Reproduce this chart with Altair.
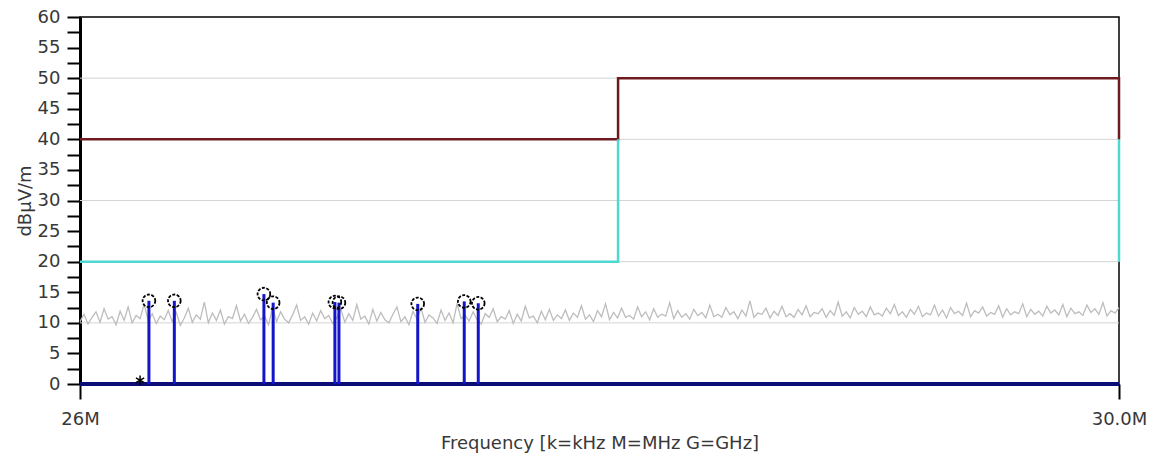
import altair as alt
import numpy as np
import pandas as pd

# ---------------- data ----------------
# limit lines (frequency MHz, level dBuV/m, segment id)
red_f = [26.0, 28.0, 28.0, 30.0, 30.0]
red_v = [40, 40, 50, 50, 40]
red_s = [0, 0, 0, 0, 0]

cyan_f = [26.0, 28.0, 28.0, 30.0, 30.0]
cyan_v = [20, 20, 40, 40, 20]
cyan_s = [0, 0, 0, 1, 1]

# peaks (stems with circles)
peak_f = [26.248, 26.340, 26.667, 26.701, 26.929, 26.944, 27.238, 27.413, 27.466]
peak_v = [13.6, 13.6, 14.7, 13.3, 13.4, 13.3, 13.1, 13.5, 13.2]

# star marker
star_f = [26.216]
star_v = [0.6]

# measured noise trace (grey)
noise_v = [
    10.2, 11.4, 9.8, 10.9, 11.8, 10.1, 12.3, 10.6, 11.0, 9.7, 11.9, 10.4, 12.6, 10.0, 11.2, 10.7, 13.1, 10.3, 11.5, 9.9,
    11.1, 10.5, 12.0, 10.2, 11.7, 9.6, 10.8, 12.4, 10.1, 11.3, 10.6, 13.4, 10.0, 11.6, 10.4, 12.1, 9.8, 11.0, 10.7, 12.8,
    10.3, 11.4, 9.9, 10.9, 12.2, 10.5, 11.1, 9.7, 12.5, 10.2, 11.8, 10.6, 10.0, 11.3, 12.9, 10.4, 11.0, 9.8, 11.6, 10.3,
    12.0, 10.7, 11.2, 9.9, 10.8, 12.3, 10.1, 11.5, 10.4, 13.0, 10.6, 11.1, 9.8, 12.2, 10.3, 11.7, 10.5, 10.0, 11.4, 12.6,
    10.2, 11.0, 9.7, 11.9, 10.6, 12.4, 10.1, 11.3, 10.8, 9.9, 12.1, 10.4, 11.6, 10.0, 13.2, 10.7, 11.2, 10.3, 11.8, 10.5,
    9.8, 11.5, 10.9, 12.3, 10.2, 11.0, 10.6, 12.0, 9.9, 11.4, 10.3, 12.7, 10.8, 11.1, 10.0, 11.9, 10.5, 12.2, 10.4, 11.3,
    10.7, 12.1, 10.4, 11.6, 10.9, 12.8, 10.6, 11.3, 10.2, 12.0, 11.0, 13.1, 10.5, 11.7, 10.8, 12.4, 10.9, 11.2, 10.6, 12.6,
    11.0, 11.8, 10.5, 12.3, 10.9, 11.4, 11.1, 13.3, 10.7, 12.0, 10.9, 11.5, 10.6, 12.2, 11.2, 11.7, 10.8, 12.9, 11.0, 11.4,
    10.9, 12.5, 11.3, 11.8, 10.7, 12.1, 11.1, 13.6, 10.9, 11.6, 11.4, 12.4, 10.8, 11.9, 11.2, 12.7, 11.0, 11.5, 10.9, 12.2,
    11.3, 12.8, 11.0, 11.7, 11.5, 12.3, 10.9, 12.0, 11.2, 13.4, 11.1, 11.8, 10.8, 12.5, 11.4, 11.9, 11.0, 12.6, 11.3, 11.6,
    11.1, 12.4, 11.5, 13.0, 11.2, 11.8, 10.9, 12.2, 11.4, 12.7, 11.0, 11.6, 11.3, 12.9, 11.1, 12.1, 10.8, 12.5, 11.5, 11.9,
    11.2, 13.2, 11.0, 12.0, 11.6, 12.6, 11.1, 11.7, 11.4, 12.8, 10.9, 12.3, 11.3, 11.8, 11.5, 13.1, 11.0, 12.2, 11.4, 11.9,
    11.1, 12.7, 11.6, 12.1, 11.3, 13.0, 11.0, 12.4, 11.5, 11.8, 11.2, 12.9, 11.7, 12.3, 11.4, 13.3, 11.1, 12.0, 11.6, 12.5,
]
noise_start, noise_stop = 26.0, 30.0

grid_levels = [10, 20, 30, 40, 50]
y_ticks = [0, 2.5, 5, 7.5, 10, 12.5, 15, 17.5, 20, 22.5, 25, 27.5, 30, 32.5, 35, 37.5,
           40, 42.5, 45, 47.5, 50, 52.5, 55, 57.5, 60]
x_ticks = [26, 30]

# ---------------- tables ----------------
noise_df = pd.DataFrame({
    "f": np.geomspace(noise_start, noise_stop, len(noise_v)),
    "v": noise_v,
})
red_df = pd.DataFrame({"f": red_f, "v": red_v, "s": red_s, "o": range(len(red_f))})
cyan_df = pd.DataFrame({"f": cyan_f, "v": cyan_v, "s": cyan_s, "o": range(len(cyan_f))})
peak_df = pd.DataFrame({"f": peak_f, "v": peak_v, "z": [0] * len(peak_f)})
star_df = pd.DataFrame({"f": star_f, "v": star_v})
grid_df = pd.DataFrame({"g": grid_levels, "f": [26.0] * len(grid_levels), "f2": [30.0] * len(grid_levels)})
base_df = pd.DataFrame({"f": [26.0], "f2": [30.0], "v": [0]})

FONT = "DejaVu Sans"
TXT = "#383838"
FS = 18

xscale = alt.Scale(type="log", domain=[26, 30], nice=False, zero=False)
yscale = alt.Scale(domain=[0, 60], nice=False, zero=False)

x_axis = alt.Axis(
    values=x_ticks,
    labelExpr="datum.value == 26 ? '26M' : '30.0M'",
    title="Frequency [k=kHz M=MHz G=GHz]",
    grid=False, domain=True, domainColor="black", domainWidth=1,
    tickColor="black", tickSize=15, tickWidth=2,
    labelFontSize=FS, labelFont=FONT, labelColor=TXT, labelPadding=11,
    labelFlush=False, labelOverlap=False,
    titleFontSize=FS, titleFont=FONT, titleFontWeight="normal", titleColor=TXT,
    titlePadding=6,
)
y_axis = alt.Axis(
    values=y_ticks,
    labelExpr="datum.value % 5 == 0 ? datum.label : ''",
    title="dBµV/m",
    grid=False, domain=True, domainColor="black", domainWidth=3,
    tickColor="black", tickSize=13, tickWidth=2,
    labelFontSize=FS, labelFont=FONT, labelColor=TXT, labelPadding=7,
    labelFlush=False, labelOverlap=False,
    titleFontSize=FS, titleFont=FONT, titleFontWeight="normal", titleColor=TXT,
    titlePadding=3,
)


def X(field):
    return alt.X(field, type="quantitative", scale=xscale, axis=x_axis)


def Y(field):
    return alt.Y(field, type="quantitative", scale=yscale, axis=y_axis)


grid = alt.Chart(grid_df).mark_rule(color="#d4d4d4", strokeWidth=1).encode(
    y=Y("g"), x=X("f"), x2="f2",
)

noise = alt.Chart(noise_df).mark_line(color="#bdbdbd", strokeWidth=1.3).encode(
    x=X("f"), y=Y("v"),
)

red = alt.Chart(red_df).mark_line(color="#6e1a1f", strokeWidth=2.5).encode(
    x=X("f"), y=Y("v"), detail="s:N", order="o:Q",
)

cyan = alt.Chart(cyan_df).mark_line(color="#4fd8d2", strokeWidth=2.5).encode(
    x=X("f"), y=Y("v"), detail="s:N", order="o:Q",
)

stems = alt.Chart(peak_df).mark_rule(color="#1414c8", strokeWidth=3).encode(
    x=X("f"), y=Y("z"), y2="v",
)

baseline = alt.Chart(base_df).mark_rule(color="#0c0c78", strokeWidth=4).encode(
    x=X("f"), x2="f2", y=Y("v"),
)

circles = alt.Chart(peak_df).mark_point(
    shape="circle", filled=False, color="black", size=160, strokeWidth=1.8,
    strokeDash=[3, 1.5], opacity=1
).encode(
    x=X("f"), y=Y("v"),
)

star = alt.Chart(star_df).mark_point(
    shape="M0,-1L0,1M-0.87,-0.5L0.87,0.5M-0.87,0.5L0.87,-0.5",
    filled=False, color="black", size=90, strokeWidth=1.5, opacity=1,
).encode(
    x=X("f"), y=Y("v"),
)

chart = alt.layer(grid, noise, red, cyan, baseline, stems, circles, star).properties(
    width=1039, height=367,
    autosize=alt.AutoSizeParams(type="none"),
    padding={"left": 80, "top": 17, "right": 37, "bottom": 75},
    background="white",
).configure_view(stroke="black", strokeWidth=1.5)

chart.save("out.html", embed_options={"renderer": "svg", "actions": False})
